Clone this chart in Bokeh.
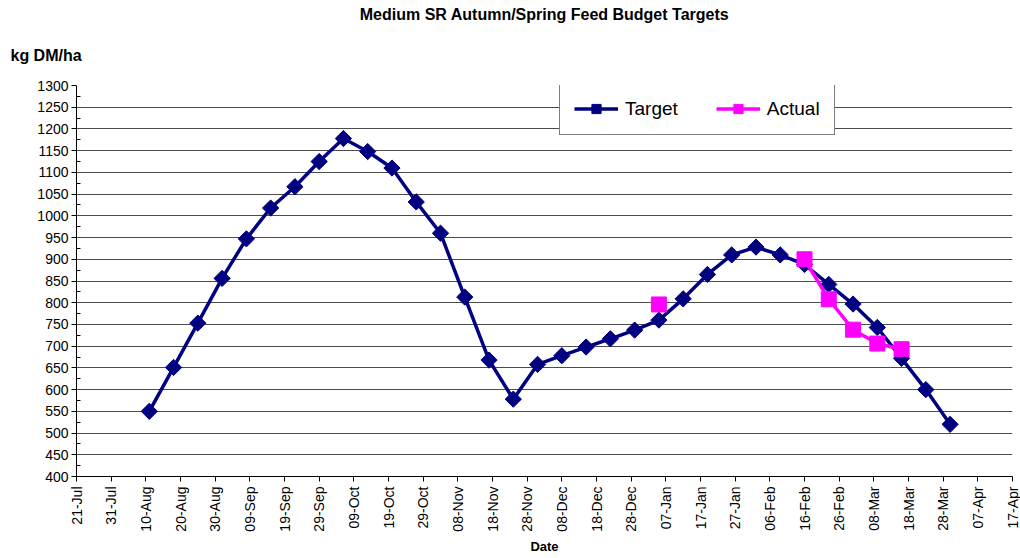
import numpy as np
from bokeh.plotting import figure
from bokeh.models import (Range1d, FixedTicker, DatetimeTickFormatter, Legend,
                          LegendItem, Title, ColumnDataSource)
from bokeh.embed import file_html
from bokeh.resources import INLINE

# ---- data -------------------------------------------------------------
dates = ["2008-08-11", "2008-08-18", "2008-08-25", "2008-09-01", "2008-09-08",
         "2008-09-15", "2008-09-22", "2008-09-29", "2008-10-06", "2008-10-13",
         "2008-10-20", "2008-10-27", "2008-11-03", "2008-11-10", "2008-11-17",
         "2008-11-24", "2008-12-01", "2008-12-08", "2008-12-15", "2008-12-22",
         "2008-12-29", "2009-01-05", "2009-01-12", "2009-01-19", "2009-01-26",
         "2009-02-02", "2009-02-09", "2009-02-16", "2009-02-23", "2009-03-02",
         "2009-03-09", "2009-03-16", "2009-03-23", "2009-03-30"]
target = [550, 651, 753, 856, 947, 1018, 1067, 1125, 1178, 1148,
          1110, 1032, 960, 813, 668, 578, 658, 678, 698, 717,
          737, 760, 809, 865, 910, 928, 910, 888, 842, 797,
          743, 672, 600, 520]
actual = [None, None, None, None, None, None, None, None, None, None,
          None, None, None, None, None, None, None, None, None, None,
          None, 796, None, None, None, None, None, 900, 808, 738,
          706, 693, None, None]
x_tick_dates = ["2008-07-21", "2008-07-31", "2008-08-10", "2008-08-20", "2008-08-30",
                "2008-09-09", "2008-09-19", "2008-09-29", "2008-10-09", "2008-10-19",
                "2008-10-29", "2008-11-08", "2008-11-18", "2008-11-28", "2008-12-08",
                "2008-12-18", "2008-12-28", "2009-01-07", "2009-01-17", "2009-01-27",
                "2009-02-06", "2009-02-16", "2009-02-26", "2009-03-08", "2009-03-18",
                "2009-03-28", "2009-04-07", "2009-04-17"]
y_ticks = [400, 450, 500, 550, 600, 650, 700, 750, 800, 850, 900, 950,
           1000, 1050, 1100, 1150, 1200, 1250, 1300]
y_minor_ticks = [425, 475, 525, 575, 625, 675, 725, 775, 825, 875, 925, 975,
                 1025, 1075, 1125, 1175, 1225, 1275]

title_text = "Medium SR Autumn/Spring Feed Budget Targets"
y_title_text = "kg DM/ha"
x_title_text = "Date"

# ---- build ------------------------------------------------------------
FONT = "Liberation Sans"
NAVY = "#000080"
MAGENTA = "#FF00FF"

x = np.array(dates, dtype="datetime64[ms]")
src = ColumnDataSource(dict(
    x=x,
    target=np.array(target, dtype=float),
    actual=np.array([np.nan if v is None else v for v in actual], dtype=float),
))

tick_ms = [float(v) for v in np.array(x_tick_dates, dtype="datetime64[ms]").astype("int64")]

p = figure(width=1020, height=556, x_axis_type="datetime",
           x_range=Range1d(start=tick_ms[0], end=tick_ms[-1]),
           y_range=Range1d(y_ticks[0], y_ticks[-1]),
           output_backend="svg", toolbar_location=None, title=None,
           min_border_left=76, min_border_right=8, min_border_top=85,
           min_border_bottom=78)
p.outline_line_color = None
p.background_fill_color = "white"
p.border_fill_color = "white"

# titles
t_main = Title(text=title_text, align="center", text_font=FONT,
               text_font_size="16px", text_font_style="bold",
               text_color="black", standoff=1)
t_y = Title(text=y_title_text, align="left", offset=-66, text_font=FONT,
            text_font_size="16px", text_font_style="bold",
            text_color="black", standoff=43)
p.add_layout(t_y, "above")
p.add_layout(t_main, "above")

# axes
xa = p.xaxis[0]
xa.ticker = FixedTicker(ticks=tick_ms)
fmt = "%d-%b"
xa.formatter = DatetimeTickFormatter(milliseconds=fmt, seconds=fmt, minsec=fmt,
                                     minutes=fmt, hourmin=fmt, hours=fmt,
                                     days=fmt, months=fmt, years=fmt)
xa.major_label_orientation = np.pi / 2
xa.major_label_text_font = FONT
xa.major_label_text_font_size = "14px"
xa.major_label_text_color = "black"
xa.major_label_standoff = 5
xa.major_tick_out = 5
xa.major_tick_in = 0
xa.minor_tick_out = 0
xa.minor_tick_in = 0
xa.axis_line_color = "black"
xa.major_tick_line_color = "black"
xa.axis_label = x_title_text
xa.axis_label_text_font = FONT
xa.axis_label_text_font_size = "13px"
xa.axis_label_text_font_style = "bold"
xa.axis_label_text_color = "black"
xa.axis_label_standoff = 4

ya = p.yaxis[0]
ya.ticker = FixedTicker(ticks=y_ticks, minor_ticks=y_minor_ticks)
ya.major_label_text_font = FONT
ya.major_label_text_font_size = "14px"
ya.major_label_text_color = "black"
ya.major_label_standoff = 3
ya.major_tick_out = 5
ya.major_tick_in = 0
ya.minor_tick_out = 0
ya.minor_tick_in = 4
ya.axis_line_color = "black"
ya.major_tick_line_color = "black"
ya.minor_tick_line_color = "black"

p.xgrid.visible = False
p.ygrid.ticker = FixedTicker(ticks=y_ticks)
p.ygrid.grid_line_color = "black"
p.ygrid.grid_line_alpha = 0.7
p.ygrid.grid_line_width = 1

# glyphs
t_line = p.line("x", "target", source=src, line_color=NAVY, line_width=3.5)
t_mark = p.scatter("x", "target", source=src, marker="square", angle=np.pi / 4,
                   size=11.5, fill_color=NAVY, line_color=NAVY)
a_line = p.line("x", "actual", source=src, line_color=MAGENTA, line_width=3.5)
a_mark = p.scatter("x", "actual", source=src, marker="square", size=15,
                   fill_color=MAGENTA, line_color=MAGENTA)

legend = Legend(items=[LegendItem(label="Target", renderers=[t_line, t_mark]),
                       LegendItem(label="Actual", renderers=[a_line, a_mark])],
                orientation="horizontal", location=(483, 341),
                label_text_font=FONT, label_text_font_size="19px",
                label_text_color="black", glyph_width=44, glyph_height=23,
                label_height=23, label_standoff=7, spacing=38, padding=14,
                border_line_color="black", border_line_width=1,
                background_fill_color="white", background_fill_alpha=1.0,
                margin=0)
p.add_layout(legend)

open("out.html", "w").write(file_html(p, INLINE))
